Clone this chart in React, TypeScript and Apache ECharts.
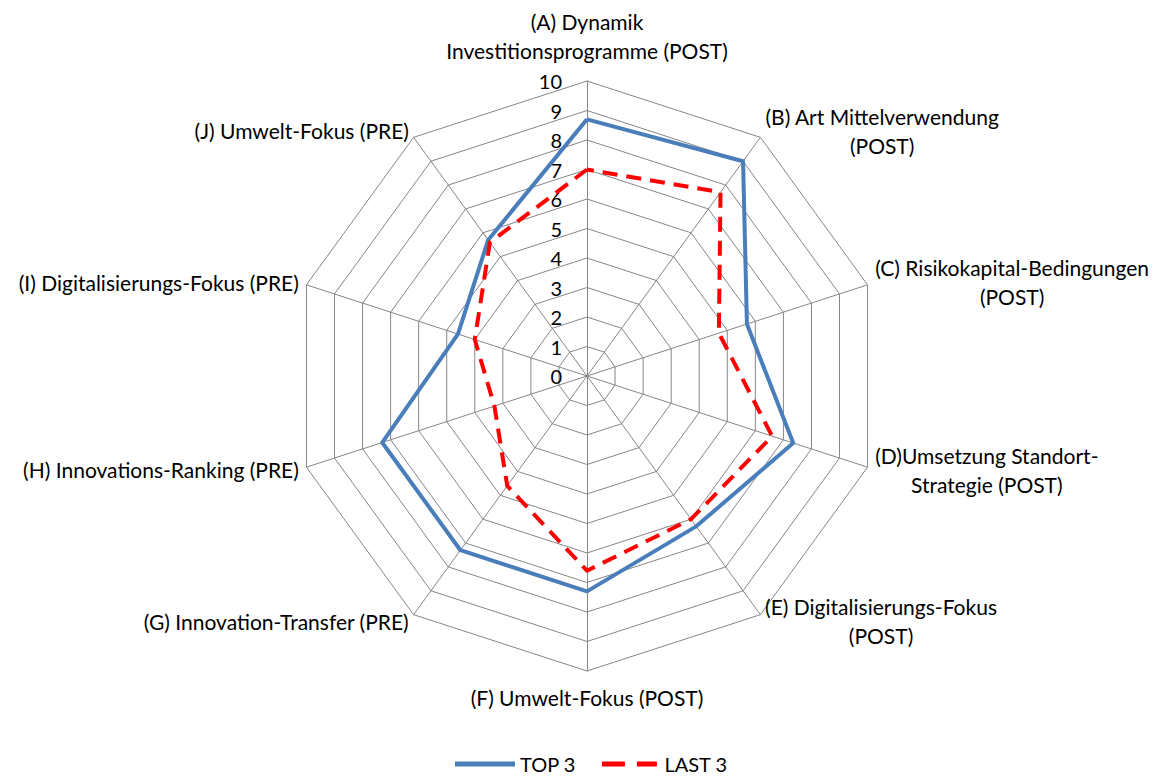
import React, { useEffect, useRef } from "react";
import * as echarts from "echarts";

const categories: string[] = [
  "(A) Dynamik\nInvestitionsprogramme (POST)",
  "(B) Art Mittelverwendung\n(POST)",
  "(C) Risikokapital-Bedingungen\n(POST)",
  "(D)Umsetzung Standort-\nStrategie (POST)",
  "(E) Digitalisierungs-Fokus\n(POST)",
  "(F) Umwelt-Fokus (POST)",
  "(G) Innovation-Transfer (PRE)",
  "(H) Innovations-Ranking (PRE)",
  "(I) Digitalisierungs-Fokus (PRE)",
  "(J) Umwelt-Fokus (PRE)",
];

const top3: number[] = [8.7, 9.0, 5.7, 7.35, 6.3, 7.3, 7.3, 7.3, 4.6, 5.7];
const last3: number[] = [7.0, 7.7, 4.7, 6.6, 6.0, 6.6, 4.6, 3.3, 4.0, 5.6];

const seriesNames: string[] = ["TOP 3", "LAST 3"];
const axisMin = 0;
const axisMax = 10;

const FONT = "Lato, 'Liberation Sans', sans-serif";

// ECharts lays radar indicators out counter-clockwise; reorder so A..J run clockwise.
const order: number[] = categories.map((_, i) => (i === 0 ? 0 : categories.length - i));
const reorder = <T,>(arr: T[]): T[] => order.map((k) => arr[k]);

export default function App() {
  const ref = useRef<HTMLDivElement>(null);

  useEffect(() => {
    if (!ref.current) return;
    const chart = echarts.init(ref.current, undefined, { renderer: "svg" });
    const nameGaps = [16, 8, 8, 8, 8, 12, 8, 8, 8, 8];
    const option: any = {
      animation: false,
      backgroundColor: "#ffffff",
      textStyle: { fontFamily: FONT },
      legend: {
        top: 754,
        left: 455,
        padding: 0,
        itemWidth: 60,
        itemHeight: 5,
        itemGap: 26,
        textStyle: { fontSize: 20, color: "#000", fontFamily: FONT },
        data: [
          { name: seriesNames[0], icon: "path://M0,0h60v5h-60z" },
          { name: seriesNames[1], icon: "path://M5,0h23v5h-23z M40,0h20v5h-20z" },
        ],
      },
      radar: {
        center: [587, 376],
        radius: 295,
        shape: "polygon",
        startAngle: 90,
        splitNumber: 10,
        axisName: {
          color: "#000",
          fontSize: 21,
          fontFamily: FONT,
          formatter: (name: string) =>
            name
              .split("\n")
              .map((l) => `{c|${l}}`)
              .join("\n"),
          rich: {
            c: { align: "center", fontSize: 21, fontFamily: FONT, color: "#000", lineHeight: 29 },
          },
        },
        axisLine: { lineStyle: { color: "#868686", width: 1 } },
        splitLine: { lineStyle: { color: "#868686", width: 1 } },
        splitArea: { show: false },
        axisTick: { show: false },
        axisLabel: { show: false },
        indicator: reorder(categories.map((c, i) => ({
          name: c,
          min: axisMin,
          max: axisMax,
          nameGap: nameGaps[i],
          axisLabel:
            i === 0
              ? {
                  show: true,
                  color: "#000",
                  fontSize: 20,
                  fontFamily: FONT,
                  margin: 25,
                  showMinLabel: true,
                  showMaxLabel: true,
                }
              : { show: false },
        }))),
      },
      series: [
        {
          type: "radar",
          symbol: "none",
          data: [
            {
              name: seriesNames[0],
              value: reorder(top3),
              lineStyle: { color: "#4a7ebb", width: 4 },
              itemStyle: { color: "#4a7ebb" },
            },
            {
              name: seriesNames[1],
              value: reorder(last3),
              lineStyle: { color: "#ff0000", width: 4, type: [15, 9] },
              itemStyle: { color: "#ff0000" },
            },
          ],
        },
      ],
    };
    chart.setOption(option);
    return () => chart.dispose();
  }, []);

  return (
    <div
      ref={ref}
      style={{ position: "fixed", left: 0, top: 0, width: 1166, height: 776 }}
    />
  );
}
